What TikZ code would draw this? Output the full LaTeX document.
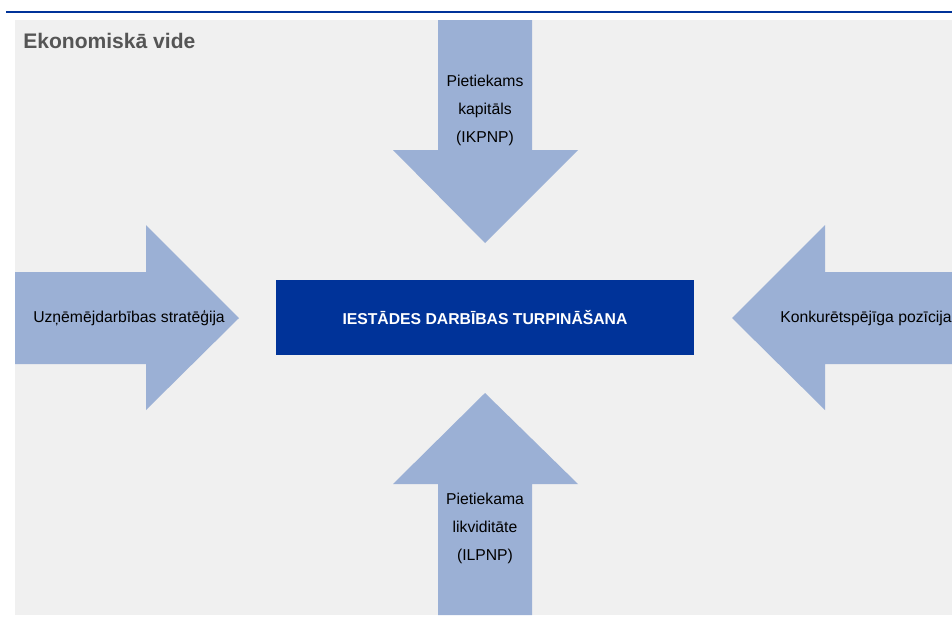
\documentclass[tikz,border=0pt]{standalone}
\usepackage{fontspec}
\setmainfont{Liberation Sans}
\definecolor{bankblue}{HTML}{003399}
\definecolor{arrowblue}{HTML}{9BB0D5}
\definecolor{panelgray}{HTML}{F0F0F0}
\definecolor{titlegray}{HTML}{555555}

\begin{document}
\begin{tikzpicture}[x=0.75pt,y=-0.75pt,
	bigarrow/.style={fill=arrowblue},
	arrowtext/.style={font=\fontsize{11.8}{21}\selectfont, align=center, inner sep=0pt}]
			\useasboundingbox (0,0) rectangle (952,622);
			% top rule and panel
			\fill[bankblue] (6,11) rectangle (952,12.8);
			\fill[panelgray] (15,20) rectangle (952,615);
			\node[anchor=base west, inner sep=0pt, text=titlegray, font=\fontsize{15.8}{19}\selectfont\bfseries] (title) at (23,48) {Ekonomiskā vide};
			% arrows
			\fill[bigarrow] (438,20) -- (532,20) -- (532,150) -- (578,150) -- (485,243) -- (393,150) -- (438,150) -- cycle;
			\fill[bigarrow] (438,615) -- (532,615) -- (532,484) -- (578,484) -- (485,393) -- (393,484) -- (438,484) -- cycle;
			\fill[bigarrow] (15,272) -- (146,272) -- (146,225) -- (239,318) -- (146,410) -- (146,364) -- (15,364) -- cycle;
			\fill[bigarrow] (952,272) -- (825,272) -- (825,225) -- (732,318) -- (825,410) -- (825,364) -- (952,364) -- cycle;
			% centre box
			\node[fill=bankblue, text=white, minimum width=418*0.75pt, minimum height=75*0.75pt, font=\fontsize{11.8}{14}\selectfont\bfseries] (goal) at (485,317.5) {IESTĀDES DARBĪBAS TURPINĀŠANA};
			% arrow labels
			\node[arrowtext] (capital) at (485,110) {Pietiekams\\kapitāls\\(IKPNP)};
			\node[arrowtext] (liquidity) at (485,528) {Pietiekama\\likviditāte\\(ILPNP)};
			\node[arrowtext, anchor=west] (strategy) at (33,318) {Uzņēmējdarbības stratēģija};
			\node[arrowtext, anchor=west] (position) at (780,318) {Konkurētspējīga pozīcija};
		\end{tikzpicture}
\end{document}
